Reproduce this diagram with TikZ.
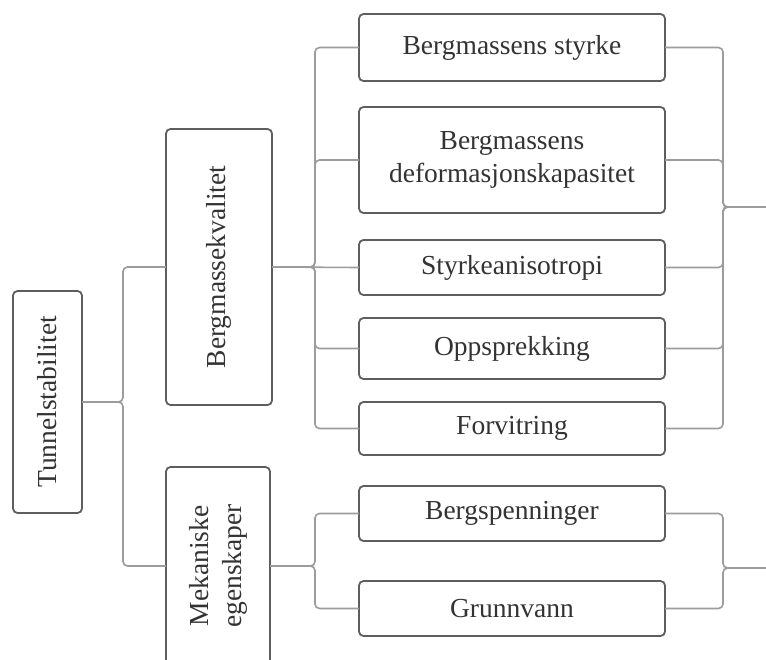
\documentclass[tikz,border=0pt]{standalone}
\usepackage{fontspec}
\setmainfont{Liberation Serif}
\begin{document}
\begin{tikzpicture}[x=1pt,y=-1pt,
  box/.style={draw=boxgray, line width=1.8pt, rounded corners=4.5pt, fill=white,
    inner sep=0pt, outer sep=0pt, align=center, text=txtgray,
    font=\fontsize{27.5}{33}\selectfont},
  conn/.style={draw=lngray, line width=1.6pt, rounded corners=4.5pt}]
\definecolor{boxgray}{HTML}{5E5E5E}
\definecolor{lngray}{HTML}{9C9C9C}
\definecolor{txtgray}{HTML}{333333}
\clip (0,0) rectangle (766,659);
\fill[white] (0,0) rectangle (766,659);

% nodes
\node[box, rotate=90, minimum width=222pt, minimum height=69pt] (T) at (47.5,402) {Tunnelstabilitet};
\node[box, rotate=90, minimum width=276pt, minimum height=106pt] (BK) at (219,267) {Bergmassekvalitet};
\node[box, rotate=90, minimum width=198pt, minimum height=104pt] (ME) at (218,566) {Mekaniske\\egenskaper};

\node[box, minimum width=306pt, minimum height=67pt] (C1) at (512,47.5) {Bergmassens styrke};
\node[box, minimum width=306pt, minimum height=106pt] (C2) at (512,160) {Bergmassens\\deformasjonskapasitet};
\node[box, minimum width=306pt, minimum height=55pt] (C3) at (512,267.5) {Styrkeanisotropi};
\node[box, minimum width=306pt, minimum height=61pt] (C4) at (512,348.5) {Oppsprekking};
\node[box, minimum width=306pt, minimum height=53pt] (C5) at (512,428.5) {Forvitring};
\node[box, minimum width=306pt, minimum height=55pt] (C6) at (512,513.5) {Bergspenninger};
\node[box, minimum width=306pt, minimum height=55pt] (C7) at (512,608.5) {Grunnvann};

% junction coordinates
\coordinate (L0) at (123,402);
\coordinate (L1) at (315,267);
\coordinate (L2) at (315,566);
\coordinate (R1) at (723,207);
\coordinate (R2) at (723,568);
\coordinate (E1) at (766,207);
\coordinate (E2) at (766,568);

% connectors: root
\draw[conn] (T.south) -- (L0) |- (BK.north);
\draw[conn] (T.south) -- (L0) |- (ME.north);

% upper group, left side
\draw[conn] (BK.south) -- (L1) |- (C1.west);
\draw[conn] (BK.south) -- (L1) |- (C2.west);
\draw[conn] (BK.south) -- (C3.west);
\draw[conn] (BK.south) -- (L1) |- (C4.west);
\draw[conn] (BK.south) -- (L1) |- (C5.west);

% upper group, right side
\draw[conn] (C1.east) -| (R1) -- (E1);
\draw[conn] (C2.east) -| (R1) -- (E1);
\draw[conn] (C3.east) -| (R1) -- (E1);
\draw[conn] (C4.east) -| (R1) -- (E1);
\draw[conn] (C5.east) -| (R1) -- (E1);

% lower group
\draw[conn] (ME.south) -- (L2) |- (C6.west);
\draw[conn] (ME.south) -- (L2) |- (C7.west);
\draw[conn] (C6.east) -| (R2) -- (E2);
\draw[conn] (C7.east) -| (R2) -- (E2);
\end{tikzpicture}
\end{document}
